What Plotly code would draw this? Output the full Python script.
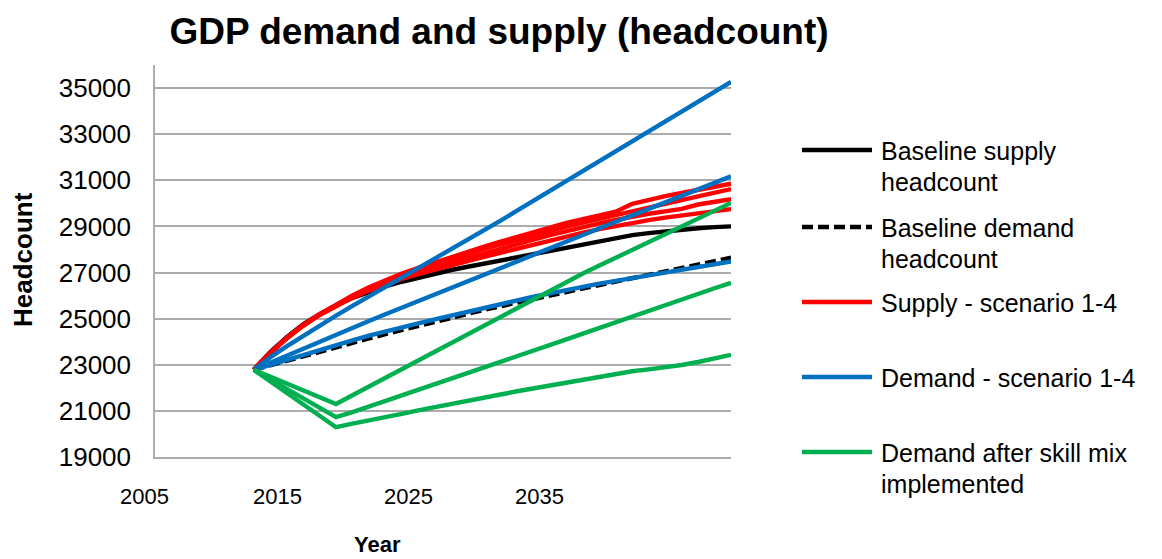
import plotly.graph_objects as go

# ---------------- data ----------------
years = list(range(2011, 2041))
years_green = [2011] + list(range(2016, 2041))

baseline_supply = [22780, 23550, 24200, 24750, 25200, 25580, 25900, 26170, 26400, 26600,
                   26780, 26950, 27110, 27250, 27390, 27530, 27670, 27810, 27950, 28090,
                   28230, 28380, 28510, 28620, 28710, 28790, 28860, 28920, 28970, 29000]
baseline_demand = [22780, 22980, 23180, 23380, 23570, 23760, 23950, 24140, 24330, 24510,
                   24690, 24870, 25040, 25210, 25380, 25540, 25700, 25860, 26010, 26160,
                   26310, 26460, 26610, 26750, 26890, 27040, 27190, 27340, 27490, 27650]

supply_s1 = [22780, 23520, 24170, 24720, 25190, 25620, 26010, 26360, 26670, 26950,
             27200, 27440, 27670, 27900, 28120, 28340, 28550, 28760, 28960, 29150,
             29320, 29480, 29640, 29980, 30160, 30310, 30450, 30590, 30720, 30850]
supply_s2 = [22780, 23510, 24160, 24710, 25180, 25600, 25980, 26320, 26630, 26900,
             27130, 27360, 27580, 27800, 28010, 28220, 28420, 28620, 28810, 28990,
             29160, 29330, 29500, 29660, 29820, 29980, 30140, 30300, 30460, 30620]
supply_s3 = [22780, 23500, 24150, 24700, 25170, 25580, 25940, 26260, 26540, 26790,
             27010, 27220, 27430, 27630, 27830, 28030, 28230, 28430, 28620, 28800,
             28970, 29130, 29280, 29420, 29550, 29650, 29760, 29950, 30080, 30180]
supply_s4 = [22780, 23500, 24140, 24690, 25160, 25560, 25910, 26210, 26480, 26720,
             26930, 27130, 27320, 27500, 27680, 27860, 28040, 28220, 28400, 28570,
             28730, 28880, 29020, 29150, 29270, 29380, 29480, 29570, 29660, 29750]

demand_s1 = [22780, 23320, 23800, 24260, 24700, 25130, 25550, 25960, 26360, 26760,
             27160, 27570, 27990, 28410, 28830, 29250, 29680, 30110, 30540, 30970,
             31400, 31830, 32260, 32690, 33120, 33550, 33980, 34410, 34840, 35270]
demand_s2 = [22780, 23090, 23400, 23700, 24000, 24300, 24600, 24900, 25190, 25480,
             25770, 26060, 26350, 26640, 26930, 27220, 27510, 27800, 28080, 28360,
             28640, 28920, 29200, 29480, 29760, 30040, 30320, 30600, 30880, 31170]
demand_s3 = [22780, 23000, 23220, 23430, 23650, 23860, 24060, 24260, 24450, 24630,
             24800, 24970, 25140, 25300, 25460, 25630, 25790, 25950, 26100, 26250,
             26390, 26520, 26640, 26760, 26880, 27000, 27120, 27240, 27360, 27480]

skill_mix_1 = [22780, 21300, 21680, 22060, 22440, 22820, 23200, 23580, 23960, 24340,
               24720, 25100, 25480, 25860, 26240, 26620, 26960, 27300, 27640, 27980,
               28320, 28660, 29000, 29340, 29680, 30020]
skill_mix_2 = [22780, 20730, 20950, 21190, 21420, 21650, 21890, 22140, 22390, 22640,
               22880, 23120, 23370, 23610, 23850, 24100, 24350, 24600, 24850, 25110,
               25360, 25600, 25840, 26080, 26320, 26550]
skill_mix_3 = [22780, 20290, 20450, 20580, 20720, 20870, 21020, 21150, 21300, 21440,
               21580, 21710, 21850, 21980, 22110, 22240, 22370, 22500, 22620, 22720,
               22800, 22880, 22990, 23120, 23270, 23430]

x_tick_labels = ["2005", "2015", "2025", "2035"]
y_tick_values = list(range(19000, 35001, 2000))

legend_labels = [["Baseline supply", "headcount"],
                 ["Baseline demand", "headcount"],
                 ["Supply - scenario 1-4"],
                 ["Demand - scenario 1-4"],
                 ["Demand after skill mix", "implemented"]]

# ---------------- styling / layout ----------------
W, H = 1162, 559
L, R, T, B = 155, 431, 65, 102
PW, PH = W - L - R, H - T - B
FONT = "Liberation Sans, Arial, sans-serif"
BLACK, RED, BLUE, GREEN = "#000000", "#FF0000", "#0070C0", "#00B050"
GRID = "#ABABAB"
LW = 4.4


def px_x(px):
    return (px - L) / PW


def px_y(py):
    return (H - B - py) / PH


fig = go.Figure()


def add_line(x, y, color, dash="solid"):
    fig.add_trace(go.Scatter(x=x, y=y, mode="lines", showlegend=False,
                             line=dict(color=color, width=LW, dash=dash),
                             hoverinfo="skip"))


add_line(years, baseline_supply, BLACK)
add_line(years, baseline_demand, BLACK, "11px,5px")
for s in (supply_s1, supply_s2, supply_s3, supply_s4):
    add_line(years, s, RED)
for s in (demand_s1, demand_s2, demand_s3):
    add_line(years, s, BLUE)
for s in (skill_mix_1, skill_mix_2, skill_mix_3):
    add_line(years_green, s, GREEN)

annotations = []
shapes = []

# x tick labels (as drawn in the reference)
tick_px = [144, 277, 408, 539]
for lab, px in zip(x_tick_labels, tick_px):
    annotations.append(dict(text=lab, x=px_x(px), y=px_y(497), xref="paper", yref="paper",
                            xanchor="center", yanchor="middle", showarrow=False,
                            font=dict(family=FONT, size=22, color="black")))

# axis titles
annotations.append(dict(text="Year", x=px_x(377), y=px_y(544), xref="paper", yref="paper",
                        xanchor="center", yanchor="middle", showarrow=False,
                        font=dict(family=FONT, size=22, color="black", weight="bold")))
annotations.append(dict(text="Headcount", x=px_x(23), y=px_y(260), xref="paper", yref="paper",
                        xanchor="center", yanchor="middle", showarrow=False, textangle=-90,
                        font=dict(family=FONT, size=26, color="black", weight="bold")))

# legend (drawn manually to match the Excel layout)
legend_styles = [(BLACK, "solid"), (BLACK, "11px,5px"), (RED, "solid"),
                 (BLUE, "solid"), (GREEN, "solid")]
legend_y = [150, 227, 302, 377, 452]
for (color, dash), labels, ly in zip(legend_styles, legend_labels, legend_y):
    shapes.append(dict(type="line", xref="paper", yref="paper",
                       x0=px_x(802), x1=px_x(872), y0=px_y(ly), y1=px_y(ly),
                       line=dict(color=color, width=4.4, dash=dash)))
    for i, txt in enumerate(labels):
        annotations.append(dict(text=txt, x=px_x(879), y=px_y(ly + 1 + 31 * i),
                                xref="paper", yref="paper", xanchor="left", yanchor="middle",
                                showarrow=False,
                                font=dict(family=FONT, size=25, color="black")))

fig.update_layout(
    width=W, height=H,
    margin=dict(l=L, r=R, t=T, b=B, pad=0),
    paper_bgcolor="white", plot_bgcolor="white",
    title=dict(text="GDP demand and supply (headcount)", xref="container", yref="container",
               x=499 / W, xanchor="center", y=1 - 31 / H, yanchor="middle",
               font=dict(family=FONT, size=37, color="black", weight="bold")),
    xaxis=dict(range=[2005, 2040], showgrid=False, zeroline=False, showticklabels=False,
               ticks="", showline=True, linecolor=GRID, linewidth=1.5),
    yaxis=dict(range=[19000, 36000], tickvals=y_tick_values, tickformat="d", showgrid=True,
               gridcolor=GRID, gridwidth=1.5, zeroline=False, ticks="",
               showline=True, linecolor=GRID, linewidth=1.5,
               tickfont=dict(family=FONT, size=26, color="black"),
               ticklabelstandoff=17),
    annotations=annotations,
    shapes=shapes,
    showlegend=False,
)

fig.write_html("out.html", config={"displayModeBar": False},
               post_script="document.body.style.margin='0';document.body.style.padding='0';")
